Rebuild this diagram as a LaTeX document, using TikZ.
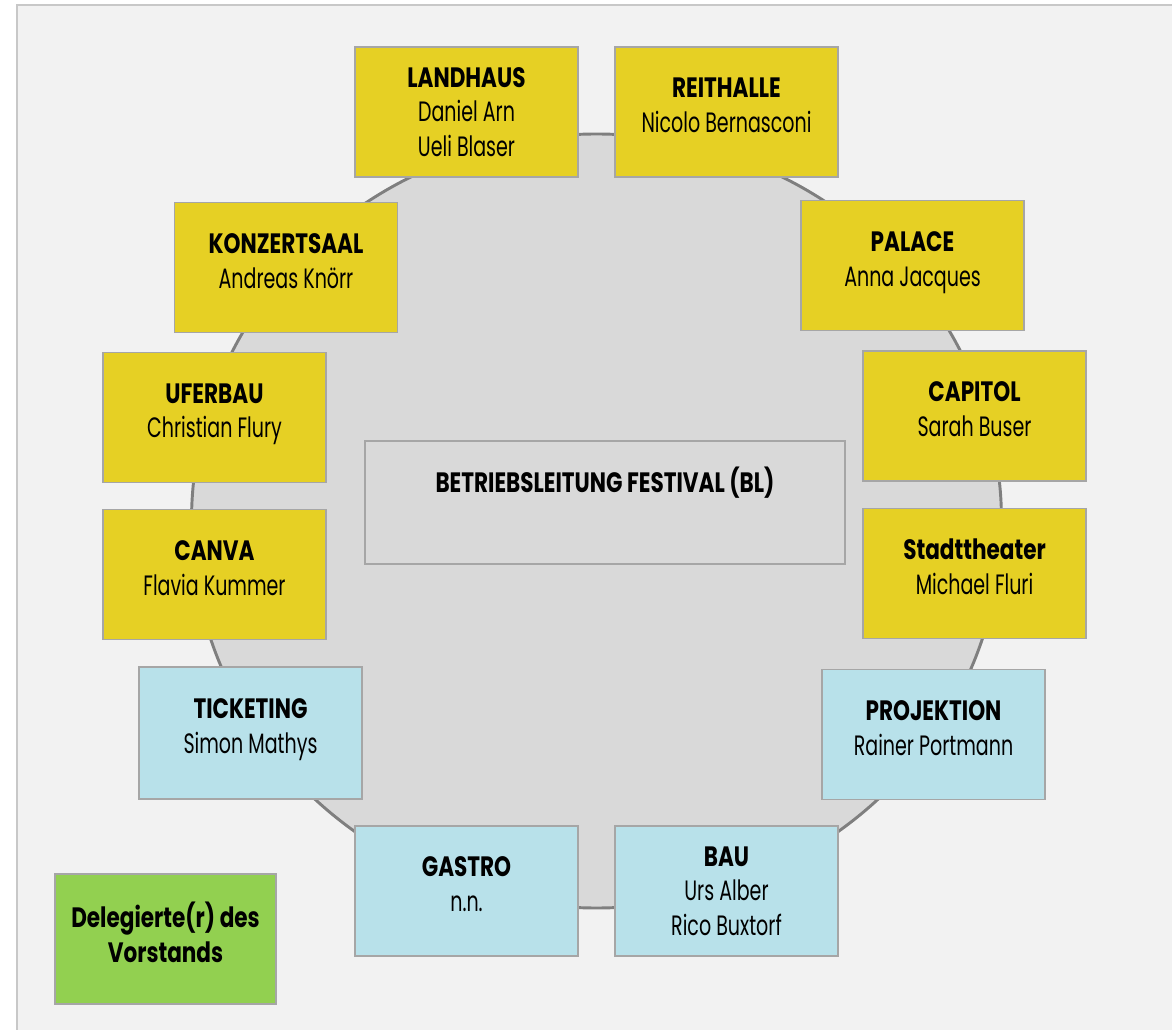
\documentclass[tikz,border=0pt]{standalone}
\usepackage{fontspec}
\setmainfont{Poppins}[FakeStretch=0.68, BoldFeatures={FakeStretch=0.77}]
\usepackage{tikz}

\definecolor{panelgrey}{HTML}{F2F2F2}
\definecolor{panelline}{HTML}{C8C8C8}
\definecolor{ringfill}{HTML}{D9D9D9}
\definecolor{ringline}{HTML}{7F7F7F}
\definecolor{boxline}{HTML}{A6A6A6}
\definecolor{venueyellow}{HTML}{E6D024}
\definecolor{serviceblue}{HTML}{B8E1EA}
\definecolor{boardgreen}{HTML}{92D050}

\tikzset{
  unit/.style={draw=boxline, line width=1.2pt, align=center,
    minimum width=167.25pt, minimum height=97.5pt, inner sep=0pt,
    font=\fontsize{21}{26}\selectfont},
  venue/.style={unit, fill=venueyellow},
  service/.style={unit, fill=serviceblue},
  board/.style={unit, fill=boardgreen, minimum width=165.75pt},
}

\begin{document}
\begin{tikzpicture}[x=0.75pt, y=-0.75pt]
  \useasboundingbox (0,0) rectangle (1172,1030);
  \def\ring{(596.5,521) ellipse (405 and 387)}

  % Background panel and ring
  \begin{scope}
    \clip (0,0) rectangle (1172,1030);
    \draw[panelline, fill=panelgrey, line width=1.5pt] (17,5) rectangle (1190,1050);
  \end{scope}
  \draw[ringline, fill=ringfill, line width=2.2pt] \ring;

  % Centre
  \node[unit, fill=ringfill, minimum width=360pt, minimum height=92.25pt] (bl) at (605,502.5)
    {\textbf{BETRIEBSLEITUNG FESTIVAL (BL)}\\[8pt]};

  % Venues
  \node[venue] (landhaus) at (466.5,112) {\textbf{LANDHAUS}\\Daniel Arn\\Ueli Blaser};
  \node[venue] (reithalle) at (726.5,112) {\textbf{REITHALLE}\\Nicolo Bernasconi\\[-16pt]};
  \node[venue] (konzertsaal) at (286,267.5) {\textbf{KONZERTSAAL}\\Andreas Knörr\\[-16pt]};
  \node[venue] (palace) at (912.5,265.5) {\textbf{PALACE}\\Anna Jacques\\[-16pt]};
  \node[venue] (uferbau) at (214.5,417.5) {\textbf{UFERBAU}\\Christian Flury\\[-16pt]};
  \node[venue] (capitol) at (974.5,416) {\textbf{CAPITOL}\\Sarah Buser\\[-16pt]};
  \node[venue] (canva) at (214.5,574.5) {\textbf{CANVA}\\Flavia Kummer\\[-16pt]};
  \node[venue] (stadttheater) at (974.5,573.5) {\textbf{Stadttheater}\\Michael Fluri\\[-16pt]};

  % Services
  \node[service, minimum height=99pt] (ticketing) at (250.5,733) {\textbf{TICKETING}\\Simon Mathys\\[-16pt]};
  \node[service] (projektion) at (933.5,734.5) {\textbf{PROJEKTION}\\Rainer Portmann\\[-16pt]};
  \node[service] (gastro) at (466.5,891) {\textbf{GASTRO}\\n.n.\\[-16pt]};
  \node[service] (bau) at (726.5,891) {\textbf{BAU}\\Urs Alber\\Rico Buxtorf};

  % Board
  \node[board] (delegierte) at (165.5,939) {\textbf{Delegierte(r) des}\\\textbf{Vorstands}\\[-16pt]};
\end{tikzpicture}
\end{document}
